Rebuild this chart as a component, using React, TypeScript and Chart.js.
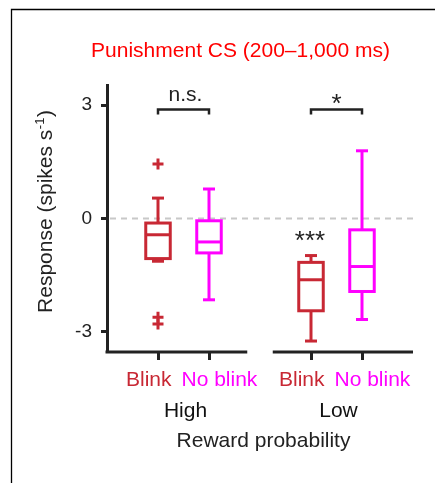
import { useEffect, useRef } from 'react';
import { Chart, registerables } from 'chart.js';

Chart.register(...registerables);

// ---------------- data ----------------
const titleText = 'Punishment CS (200–1,000 ms)';
const groups = ['High', 'Low'];
const categories = ['Blink', 'No blink', 'Blink', 'No blink'];
const whiskerTop = [0.54, 0.78, -0.98, 1.79];
const q3 = [-0.12, -0.06, -1.16, -0.3];
const medians = [-0.43, -0.62, -1.62, -1.27];
const q1 = [-1.06, -0.91, -2.44, -1.93];
const whiskerBottom = [-1.13, -2.15, -3.24, -2.67];
const outlierCategory = [0, 0, 0];
const outlierValues = [1.44, -2.61, -2.79];
const yTicks = [-3, 0, 3];
const pairSignificance = ['n.s.', '*'];
const bracketLevel = [2.88, 2.88];
const zeroSignificance = ['', '', '***', ''];
const yTitle = 'Response (spikes s';
const yTitleSup = '-1';
const xTitle = 'Reward probability';

// ---------------- style ----------------
const FONT = "'Liberation Sans', Arial, Helvetica, sans-serif";
const RED = 'rgb(200,40,52)';
const MAG = '#ff00ff';
const INK = '#222222';
const colors = [RED, MAG, RED, MAG];

const pos = (i: number) => Math.floor(i / 2) * 3 + (i % 2) + 1;

const line = (ctx: CanvasRenderingContext2D, x1: number, y1: number, x2: number, y2: number) => {
  ctx.beginPath();
  ctx.moveTo(x1, y1);
  ctx.lineTo(x2, y2);
  ctx.stroke();
};

const centerInk = (ctx: CanvasRenderingContext2D, text: string, cx: number, cy: number) => {
  const m = ctx.measureText(text);
  const base = cy + (m.actualBoundingBoxAscent - m.actualBoundingBoxDescent) / 2;
  ctx.fillText(text, cx, base);
};

const customPlugin = {
  id: 'customBoxes',
  beforeDatasetsDraw(chart: any) {
    const { ctx, chartArea: a, scales } = chart;
    const x = scales.x;
    const y = scales.y;
    ctx.save();
    // zero reference line
    const y0 = y.getPixelForValue(0);
    ctx.strokeStyle = '#c8c8c8';
    ctx.lineWidth = 2;
    ctx.setLineDash([6, 5]);
    line(ctx, a.left + 3, y0, a.right, y0);
    ctx.setLineDash([]);

    // boxes
    const hw = 12.25;
    const cap = 6;
    for (let i = 0; i < categories.length; i++) {
      const cx = x.getPixelForValue(pos(i));
      const pWT = y.getPixelForValue(whiskerTop[i]);
      const pQ3 = y.getPixelForValue(q3[i]);
      const pMed = y.getPixelForValue(medians[i]);
      const pQ1 = y.getPixelForValue(q1[i]);
      const pWB = y.getPixelForValue(whiskerBottom[i]);
      ctx.strokeStyle = colors[i];
      ctx.lineWidth = 3;
      ctx.lineCap = 'butt';
      line(ctx, cx, pWT, cx, pQ3);
      line(ctx, cx, pQ1, cx, pWB);
      line(ctx, cx - cap, pWT, cx + cap, pWT);
      line(ctx, cx - cap, pWB, cx + cap, pWB);
      ctx.strokeRect(cx - hw, pQ3, hw * 2, pQ1 - pQ3);
      line(ctx, cx - hw, pMed, cx + hw, pMed);
    }
    ctx.restore();
  },
  afterDraw(chart: any) {
    const { ctx, chartArea: a, scales } = chart;
    const x = scales.x;
    const y = scales.y;
    ctx.save();

    // broken x axis
    ctx.strokeStyle = INK;
    ctx.lineWidth = 3;
    line(ctx, a.left - 1.5, a.bottom, x.getPixelForValue(2.75), a.bottom);
    line(ctx, x.getPixelForValue(3.25), a.bottom, a.right, a.bottom);

    // brackets
    ctx.fillStyle = INK;
    ctx.strokeStyle = INK;
    ctx.lineWidth = 2.5;
    ctx.textAlign = 'center';
    for (let g = 0; g < groups.length; g++) {
      const xa = x.getPixelForValue(pos(g * 2));
      const xb = x.getPixelForValue(pos(g * 2 + 1));
      const by = y.getPixelForValue(bracketLevel[g]);
      ctx.beginPath();
      ctx.moveTo(xa, by + 5);
      ctx.lineTo(xa, by);
      ctx.lineTo(xb, by);
      ctx.lineTo(xb, by + 5);
      ctx.stroke();
      const label = pairSignificance[g];
      if (label.startsWith('*')) {
        ctx.font = `26px ${FONT}`;
        centerInk(ctx, label, (xa + xb) / 2, by - 11);
      } else {
        ctx.font = `21px ${FONT}`;
        ctx.fillText(label, (xa + xb) / 2 + 2, by - 9);
      }
    }
    // vs zero significance
    ctx.font = `26px ${FONT}`;
    for (let i = 0; i < categories.length; i++) {
      if (!zeroSignificance[i]) continue;
      const cx = x.getPixelForValue(pos(i));
      const top = y.getPixelForValue(whiskerTop[i]);
      centerInk(ctx, zeroSignificance[i], cx - 1, top - 20);
    }

    // category labels
    ctx.font = `21px ${FONT}`;
    const catBase = a.bottom + 34;
    for (let g = 0; g < groups.length; g++) {
      const xa = x.getPixelForValue(pos(g * 2));
      const xb = x.getPixelForValue(pos(g * 2 + 1));
      const mid = (xa + xb) / 2;
      ctx.textAlign = 'right';
      ctx.fillStyle = colors[g * 2];
      ctx.fillText(categories[g * 2], mid - 12, catBase);
      ctx.textAlign = 'left';
      ctx.fillStyle = colors[g * 2 + 1];
      ctx.fillText(categories[g * 2 + 1], mid - 2, catBase);
      ctx.textAlign = 'center';
      ctx.fillStyle = '#111';
      ctx.fillText(groups[g], mid + 2, a.bottom + 65);
    }
    // x title
    ctx.fillStyle = INK;
    ctx.textAlign = 'center';
    ctx.fillText(xTitle, (a.left + a.right) / 2 + 3.5, a.bottom + 95);

    // y title (rotated, with superscript)
    ctx.save();
    ctx.translate(52, (a.top + a.bottom) / 2 - 7);
    ctx.rotate(-Math.PI / 2);
    ctx.textAlign = 'left';
    ctx.font = `21px ${FONT}`;
    const w1 = ctx.measureText(yTitle).width;
    const w3 = ctx.measureText(')').width;
    ctx.font = `13px ${FONT}`;
    const w2 = ctx.measureText(yTitleSup).width;
    let sx = -(w1 + w2 + w3 + 1) / 2;
    ctx.font = `21px ${FONT}`;
    ctx.fillText(yTitle, sx, 0);
    sx += w1 + 0.5;
    ctx.font = `13px ${FONT}`;
    ctx.fillText(yTitleSup, sx, -8);
    sx += w2 + 0.5;
    ctx.font = `21px ${FONT}`;
    ctx.fillText(')', sx, 0);
    ctx.restore();

    // title
    ctx.fillStyle = '#ff0000';
    ctx.font = `21px ${FONT}`;
    ctx.textAlign = 'center';
    ctx.fillText(titleText, 240.5, 56.5);

    // panel frame (top + left)
    ctx.strokeStyle = '#000';
    ctx.lineWidth = 1.3;
    ctx.beginPath();
    ctx.moveTo(11.5, chart.height);
    ctx.lineTo(11.5, 9.5);
    ctx.lineTo(chart.width, 9.5);
    ctx.stroke();

    ctx.restore();
  },
};

export default function App() {
  const ref = useRef<HTMLCanvasElement>(null);
  useEffect(() => {
    if (!ref.current) return;
    const chart = new Chart(ref.current, {
      type: 'scatter',
      data: {
        datasets: [
          {
            data: outlierValues.map((v, k) => ({ x: pos(outlierCategory[k]), y: v })),
            pointStyle: 'cross',
            radius: 5.5,
            hoverRadius: 5.5,
            borderWidth: 3,
            borderColor: outlierCategory.map((c) => colors[c]),
            backgroundColor: outlierCategory.map((c) => colors[c]),
          } as any,
        ],
      },
      options: {
        animation: false,
        responsive: false,
        devicePixelRatio: 1,
        events: [],
        layout: { padding: { left: 47, right: 22, top: 85, bottom: 123 } },
        plugins: { legend: { display: false }, tooltip: { enabled: false }, title: { display: false } },
        scales: {
          x: {
            type: 'linear',
            min: 0,
            max: 6,
            afterBuildTicks: (s: any) => {
              s.ticks = [0, 1, 2, 3].map((i) => ({ value: pos(i) }));
            },
            afterFit: (s: any) => {
              s.height = 8;
            },
            ticks: { display: false },
            border: { display: false },
            grid: { drawOnChartArea: false, drawTicks: true, tickLength: 8, tickWidth: 3, tickColor: INK, color: INK },
          },
          y: {
            type: 'linear',
            min: -3.53,
            max: 3.53,
            afterBuildTicks: (s: any) => {
              s.ticks = yTicks.map((v) => ({ value: v }));
            },
            afterFit: (s: any) => {
              s.width = 60;
            },
            ticks: {
              color: INK,
              font: { family: FONT, size: 19 },
              padding: 9,
              callback: (v: any) => String(v),
            },
            border: { display: true, color: INK, width: 3 },
            grid: { drawOnChartArea: false, drawTicks: true, tickLength: 6, tickWidth: 3, tickColor: INK, color: INK },
          },
        },
      } as any,
      plugins: [customPlugin],
    });
    return () => chart.destroy();
  }, []);
  return (
    <div style={{ position: 'fixed', left: 0, top: 0, width: 435, height: 483, background: '#fff' }}>
      <canvas ref={ref} width={435} height={483} style={{ display: 'block', width: 435, height: 483 }} />
    </div>
  );
}
